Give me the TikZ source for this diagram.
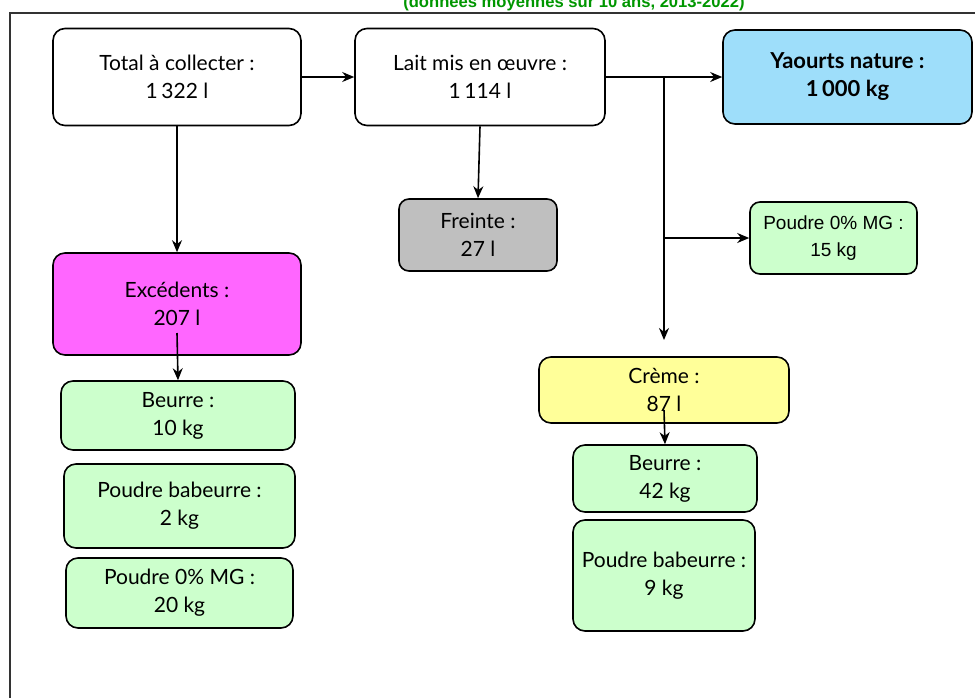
\documentclass[tikz,border=0pt]{standalone}
\usepackage{fontspec}
\setmainfont{Lato}
\newfontfamily\arialfont{Liberation Sans}
\usetikzlibrary{positioning, arrows.meta, calc}

\definecolor{titlegreen}{RGB}{0,150,0}
\definecolor{milkgreen}{RGB}{204,255,204}
\definecolor{yogblue}{RGB}{158,222,250}
\definecolor{surplus}{RGB}{255,102,255}
\definecolor{lossgray}{RGB}{191,191,191}
\definecolor{creamyellow}{RGB}{255,255,153}

\begin{document}
\begin{tikzpicture}[x=0.5pt, y=-0.5pt, >={Stealth[length=6pt, width=5pt]},
    box/.style={draw, line width=0.8pt, rounded corners=6pt, align=center, inner sep=0pt,
      font=\fontsize{10.5}{14}\selectfont},
    prod/.style={box, fill=milkgreen}]
        \useasboundingbox (0,0) rectangle (975,697);
        \clip (0,0) rectangle (975,697);

        % Frame and title
        \draw[line width=0.8pt, black!80] (10,13) rectangle (990,720);
        \node[anchor=base, text=titlegreen, font=\arialfont\bfseries\fontsize{8.3}{10}\selectfont] (title) at (574,7) {(données moyennes sur 10 ans, 2013-2022)};

        % Top row
        \node[box, fill=white, minimum width=124pt, minimum height=48.5pt] (total) at (177,77) {Total à collecter :\\1\,322 l};
        \node[box, fill=white, minimum width=125pt, minimum height=48.5pt] (lait) at (480,77) {Lait mis en œuvre :\\1\,114 l};
        \node[box, fill=yogblue, minimum width=124.5pt, minimum height=47pt,
          font=\bfseries\fontsize{11}{14}\selectfont] (yaourt) at (847.5,77) {Yaourts nature :\\1\,000 kg};

        % Middle
        \node[box, fill=lossgray, rounded corners=5pt, minimum width=79pt, minimum height=36pt] (freinte) at (478,235) {Freinte :\\27 l};
        \node[prod, rounded corners=5pt, minimum width=83.5pt, minimum height=36pt,
          font=\arialfont\fontsize{9.5}{13.5}\selectfont] (poudreA) at (833.5,238) {Poudre 0\% MG :\\15 kg};
        \node[box, fill=surplus, minimum width=124pt, minimum height=51pt] (exc) at (177,304) {Excédents :\\207 l};
        \node[box, fill=creamyellow, minimum width=125pt, minimum height=33pt] (creme) at (664,390) {Crème :\\87 l};

        % Left column
        \node[prod, minimum width=117pt, minimum height=34.5pt] (beurreA) at (178,415.5) {Beurre :\\10 kg};
        \node[prod, minimum width=115.5pt, minimum height=42pt] (babeurreA) at (179.5,506) {Poudre babeurre :\\2 kg};
        \node[prod, minimum width=113.5pt, minimum height=35pt] (poudreB) at (179.5,593) {Poudre 0\% MG :\\20 kg};

        % Right column
        \node[prod, minimum width=92pt, minimum height=33.5pt] (beurreB) at (665,478.5) {Beurre :\\42 kg};
        \node[prod, minimum width=91pt, minimum height=55.5pt] (babeurreB) at (664,575.5) {Poudre babeurre :\\9 kg};

        % Arrows
        \coordinate (split) at (664,77);
        \coordinate (cremein) at (664,340);
        \coordinate (poudrein) at (664,238);
        \coordinate (excout) at (177,333);
        \coordinate (cremeout) at (664,410);

        \draw[->, line width=0.8pt] (total.east) -- (lait.west);
        \draw[->, line width=0.8pt] (lait.east) -- (yaourt.west);
        \draw[->, line width=0.8pt] (total.south) -- (exc.north);
        \draw[->, line width=0.8pt] (lait.south) -- (freinte.north);
        \draw[->, line width=0.8pt] (split) -- (cremein);
        \draw[->, line width=0.8pt] (poudrein) -- (poudreA.west);
        \draw[->, line width=0.8pt] (excout) -- (beurreA.north);
        \draw[->, line width=0.8pt] (cremeout) -- (beurreB.north);

      \end{tikzpicture}
\end{document}
